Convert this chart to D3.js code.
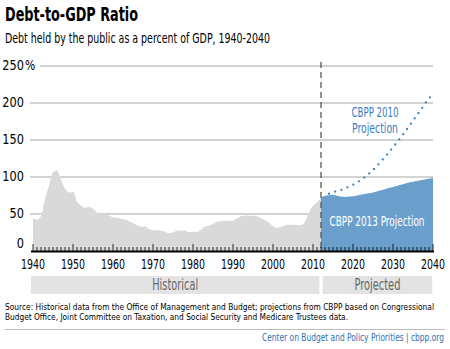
<!DOCTYPE html>
<html>
<head>
<meta charset="utf-8">
<script src="https://cdn.jsdelivr.net/npm/d3@7"></script>
<style>
  body { margin: 0; background: #fff; }
  text { font-family: "DejaVu Sans Condensed", "DejaVu Sans", sans-serif; font-stretch: condensed; }
</style>
</head>
<body>
<div id="chart"></div>
<script>
// Debt held by the public, percent of GDP
var histYears = d3.range(1940, 2013);
var histValues = [44.2, 42.3, 47.0, 70.9, 88.3, 106.2, 108.7, 96.2, 84.3, 79.0,
                  80.2, 66.9, 61.6, 58.6, 59.5, 57.2, 52.0, 48.6, 49.2, 47.9,
                  45.6, 45.0, 43.7, 42.4, 40.0, 37.9, 34.9, 32.9, 33.3, 29.3,
                  28.0, 28.1, 27.4, 26.0, 23.9, 25.3, 27.5, 27.8, 27.4, 25.6,
                  26.1, 25.8, 28.7, 33.1, 34.0, 36.4, 39.5, 40.6, 40.9, 40.5,
                  40.9, 44.1, 46.8, 47.9, 47.7, 47.5, 46.8, 44.5, 41.6, 38.2,
                  33.6, 31.4, 32.5, 34.5, 35.5, 35.6, 35.3, 35.1, 39.3, 52.3,
                  61.0, 65.8, 72.0];

// CBPP 2013 projection (filled)
var proj2013Years = d3.range(2012, 2041);
var proj2013Values = [72.0, 74.5, 75.5, 76.0, 74.5, 73.5, 73.0, 73.5, 74.0, 75.0,
                      76.0, 77.0, 78.0, 79.0, 80.5, 82.0, 83.5, 85.0, 86.5, 88.0,
                      89.5, 91.0, 92.5, 93.5, 94.5, 95.5, 96.5, 97.5, 98.5];

// CBPP 2010 projection (dotted)
var proj2010Years = d3.range(2014, 2041);
var proj2010Values = [77.5, 79.5, 81.0, 82.5, 84.5, 87.0, 89.5, 92.5, 96.0, 100.0,
                      104.5, 109.5, 115.0, 121.0, 127.0, 133.5, 140.0, 147.0, 154.0,
                      161.0, 168.5, 176.0, 183.5, 191.0, 199.0, 206.0, 213.0];

var yTicks = [0, 50, 100, 150, 200, 250];
var xTicks = [1940, 1950, 1960, 1970, 1980, 1990, 2000, 2010, 2020, 2030, 2040];
var splitYear = 2012;

var WIDTH = 450, HEIGHT = 349;
var svg = d3.select("#chart").append("svg")
    .attr("width", WIDTH)
    .attr("height", HEIGHT);

var x = d3.scaleLinear().domain([1940, 2040]).range([33, 433]);
var y = d3.scaleLinear().domain([0, 250]).range([251, 66]);

// squeeze a text into a given width (the house font is a condensed one)
var squeeze = function (sel, w) {
    sel.attr("textLength", w).attr("lengthAdjust", "spacingAndGlyphs");
};
var narrow = function (sel, k) {
    sel.each(function () {
        var len = this.getComputedTextLength();
        d3.select(this).attr("textLength", len * k).attr("lengthAdjust", "spacingAndGlyphs");
    });
};

// titles
svg.append("text")
    .attr("x", 5).attr("y", 21)
    .style("font-size", "20px").style("font-weight", "bold")
    .text("Debt-to-GDP Ratio")
    .call(squeeze, 133);
svg.append("text")
    .attr("x", 5).attr("y", 43)
    .style("font-size", "13.5px")
    .text("Debt held by the public as a percent of GDP, 1940-2040")
    .call(squeeze, 265);

// gridlines and y labels
svg.selectAll(".grid").data(yTicks.filter(function (d) { return d > 0; }))
  .enter().append("line")
    .attr("x1", function (d) { return d === 250 ? 40 : 30; })
    .attr("x2", 433)
    .attr("y1", function (d) { return y(d); })
    .attr("y2", function (d) { return y(d); })
    .attr("stroke", "#a6a6a6").attr("stroke-width", 1);

svg.selectAll(".ylab").data(yTicks)
  .enter().append("text")
    .attr("x", 24)
    .attr("y", function (d) { return d === 0 ? y(d) - 3 : y(d) + 4; })
    .attr("text-anchor", "end")
    .style("font-size", "14px")
    .text(function (d) { return d; })
    .call(narrow, 0.9);
svg.append("text")
    .attr("x", 25).attr("y", y(250) + 4)
    .style("font-size", "14px")
    .text("%")
    .call(narrow, 0.85);

// historical area
var area = d3.area()
    .x(function (d) { return x(d[0]); })
    .y0(y(0))
    .y1(function (d) { return y(d[1]); })
    .curve(d3.curveMonotoneX);

svg.append("path")
    .datum(d3.zip(histYears, histValues))
    .attr("d", area)
    .attr("fill", "#d9d9d9");

svg.append("path")
    .datum(d3.zip(proj2013Years, proj2013Values))
    .attr("d", area)
    .attr("fill", "#6b9fcb");

// 2010 projection, dotted
var line = d3.line()
    .x(function (d) { return x(d[0]); })
    .y(function (d) { return y(d[1]); })
    .curve(d3.curveMonotoneX);

svg.append("path")
    .datum(d3.zip(proj2010Years, proj2010Values))
    .attr("d", line)
    .attr("fill", "none")
    .attr("stroke", "#3b7ec0")
    .attr("stroke-width", 2.3)
    .attr("stroke-linecap", "round")
    .attr("stroke-dasharray", "0 6.5");

// divider between historical and projected
svg.append("line")
    .attr("x1", x(splitYear)).attr("x2", x(splitYear))
    .attr("y1", 62).attr("y2", y(0))
    .attr("stroke", "#555").attr("stroke-width", 1.3)
    .attr("stroke-dasharray", "6 4");

svg.append("text")
    .attr("x", 375).attr("y", 117)
    .attr("text-anchor", "middle")
    .attr("fill", "#3b7ec0")
    .style("font-size", "14px")
    .text("CBPP 2010")
    .call(squeeze, 47);
svg.append("text")
    .attr("x", 375).attr("y", 133)
    .attr("text-anchor", "middle")
    .attr("fill", "#3b7ec0")
    .style("font-size", "14px")
    .text("Projection")
    .call(squeeze, 46);
svg.append("text")
    .attr("x", 377).attr("y", 226)
    .attr("text-anchor", "middle")
    .attr("fill", "#fff")
    .style("font-size", "14px")
    .text("CBPP 2013 Projection")
    .call(squeeze, 95);

// x axis with yearly ticks
svg.selectAll(".tick").data(d3.range(1940, 2041))
  .enter().append("line")
    .attr("x1", function (d) { return x(d); })
    .attr("x2", function (d) { return x(d); })
    .attr("y1", function (d) { return d % 10 === 0 ? y(0) - 7 : y(0) - 4; })
    .attr("y2", y(0))
    .attr("stroke", "#000").attr("stroke-width", 0.8);

svg.append("line")
    .attr("x1", 31).attr("x2", 434)
    .attr("y1", y(0) + 0.5).attr("y2", y(0) + 0.5)
    .attr("stroke", "#000").attr("stroke-width", 2);

svg.selectAll(".xlab").data(xTicks)
  .enter().append("text")
    .attr("x", function (d) { return x(d); })
    .attr("y", 269)
    .attr("text-anchor", "middle")
    .style("font-size", "14.5px")
    .text(function (d) { return d; })
    .call(squeeze, 24);

// period bands
var bands = [
  { label: "Historical", from: 1939.5, to: 2011.6 },
  { label: "Projected", from: 2012.4, to: 2039.8 }
];
svg.selectAll(".band").data(bands)
  .enter().append("rect")
    .attr("x", function (d) { return x(d.from); })
    .attr("width", function (d) { return x(d.to) - x(d.from); })
    .attr("y", 276).attr("height", 18)
    .attr("fill", "#e3e3e3");
svg.selectAll(".bandlab").data(bands)
  .enter().append("text")
    .attr("x", function (d) { return (x(d.from) + x(d.to)) / 2; })
    .attr("y", 290)
    .attr("text-anchor", "middle")
    .attr("fill", "#666")
    .style("font-size", "15px")
    .text(function (d) { return d.label; })
    .call(squeeze, 46);

// source and footer
svg.append("text")
    .attr("x", 5).attr("y", 310)
    .style("font-size", "9.5px")
    .text("Source: Historical data from the Office of Management and Budget; projections from CBPP based on Congressional")
    .call(squeeze, 429);
svg.append("text")
    .attr("x", 5).attr("y", 320)
    .style("font-size", "9.5px")
    .text("Budget Office, Joint Committee on Taxation, and Social Security and Medicare Trustees data.")
    .call(squeeze, 343);

svg.append("line")
    .attr("x1", 5).attr("x2", 445)
    .attr("y1", 329.5).attr("y2", 329.5)
    .attr("stroke", "#bbb").attr("stroke-width", 1);

svg.append("text")
    .attr("x", 444).attr("y", 341)
    .attr("text-anchor", "end")
    .attr("fill", "#2f6fb4")
    .style("font-size", "10.5px")
    .text("Center on Budget and Policy Priorities | cbpp.org")
    .call(squeeze, 182);
</script>
</body>
</html>
